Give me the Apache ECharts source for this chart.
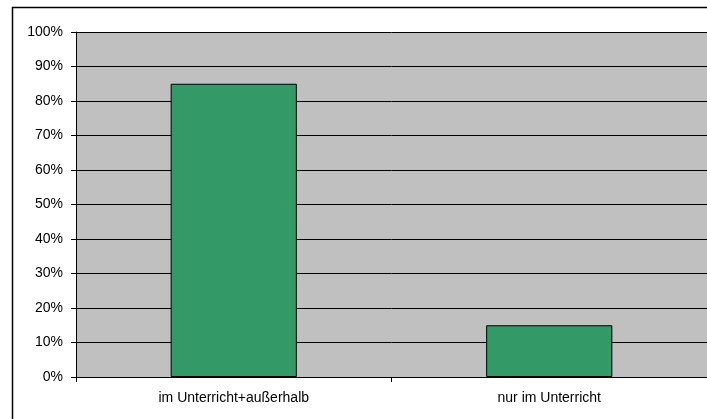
<!DOCTYPE html>
<html>
<head>
<meta charset="utf-8">
<script src="https://cdn.jsdelivr.net/npm/echarts@6/dist/echarts.min.js"></script>
<style>
  html, body { margin: 0; padding: 0; background: #fff; }
  #chart { width: 707px; height: 419px; }
</style>
</head>
<body>
<div id="chart"></div>
<script>
// Share of answers per category (percent)
const categories = ['im Unterricht+außerhalb', 'nur im Unterricht'];
const shares = [85, 15];
const yTicks = [0, 10, 20, 30, 40, 50, 60, 70, 80, 90, 100];

const chart = echarts.init(document.getElementById('chart'), null, { renderer: 'canvas' });
const font = { fontFamily: '"Liberation Sans", Arial, sans-serif', fontSize: 14, color: '#000' };

chart.setOption({
  animation: false,
  backgroundColor: '#fff',
  graphic: [{
    type: 'rect',
    shape: { x: 12.5, y: 7.5, width: 800, height: 500 },
    style: { fill: 'none', stroke: '#000', lineWidth: 1.5 },
    silent: true,
    z: 100
  }],
  grid: {
    left: 76, top: 32, right: -1, bottom: 42,
    show: true, backgroundColor: '#C0C0C0', borderWidth: 0
  },
  xAxis: {
    type: 'category',
    data: categories,
    axisLine: { lineStyle: { color: '#000', width: 1 } },
    axisTick: { show: true, length: 5, lineStyle: { color: '#000' } },
    axisLabel: Object.assign({ margin: 14, interval: 0 }, font)
  },
  yAxis: {
    type: 'value',
    min: yTicks[0],
    max: yTicks[yTicks.length - 1],
    interval: 10,
    axisLine: { show: true, lineStyle: { color: '#000', width: 1 } },
    axisTick: { show: true, length: 5, lineStyle: { color: '#000' } },
    splitLine: { show: true, lineStyle: { color: '#000', width: 1 } },
    axisLabel: Object.assign({ margin: 13, formatter: '{value}%' }, font)
  },
  series: [{
    type: 'bar',
    data: shares,
    barWidth: '40%',
    itemStyle: { color: '#339966', borderColor: '#000', borderWidth: 1 }
  }]
});
</script>
</body>
</html>
